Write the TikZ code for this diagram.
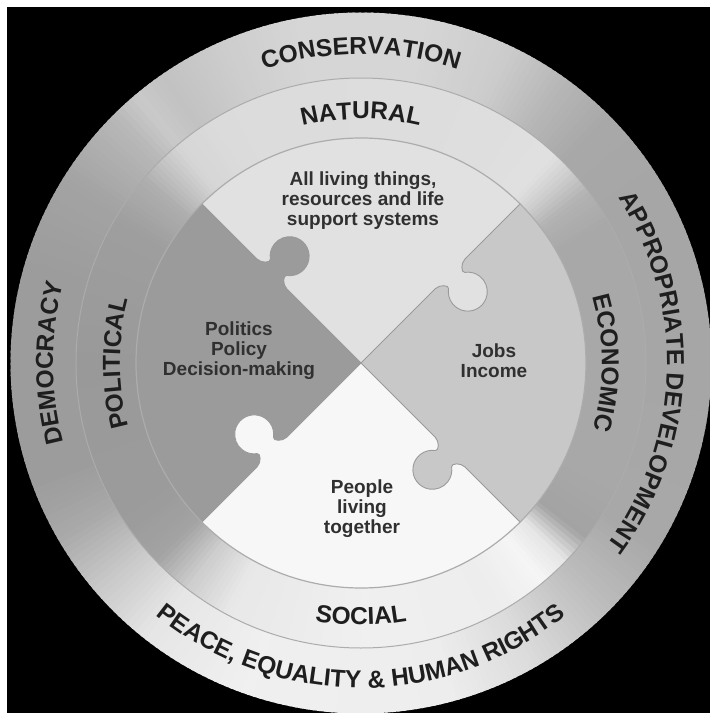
\documentclass[tikz,border=0pt]{standalone}
\usepackage{fontspec}
\setmainfont{Liberation Sans}
\usetikzlibrary{decorations.text}
\definecolor{topc}{HTML}{E1E1E1}
\definecolor{rightc}{HTML}{C8C8C8}
\definecolor{bottomc}{HTML}{F7F7F7}
\definecolor{leftc}{HTML}{9B9B9B}
\definecolor{seamc}{HTML}{9A9A9A}
\definecolor{edgec}{HTML}{ACACAC}
\definecolor{ringtxt}{HTML}{1E1E1E}
\definecolor{innertxt}{HTML}{303030}
\newcommand\ringfont{\bfseries\fontsize{24.5}{25}\selectfont}
\newcommand\innerfont{\bfseries\fontsize{19}{20}\selectfont}
\newcommand\ringshade[3]{%
  \foreach \ra/\rb/\ca/\cb in {#3}{%
    \pgfmathtruncatemacro\nn{\rb-\ra-1}%
    \foreach \i in {0,...,\nn}{%
      \pgfmathsetmacro\gv{\ca+(\cb-\ca)*(\i+0.5)/(\rb-\ra)}%
      \pgfmathsetmacro\sa{\ra+\i}%
      \pgfmathsetmacro\ea{\ra+\i+1.4}%
      \fill[white!\gv!black] (\sa:#1) arc[start angle=\sa, end angle=\ea, radius=#1] -- (\ea:#2) arc[start angle=\ea, end angle=\sa, radius=#2] -- cycle;
    }%
  }%
}
\begin{document}
\begin{tikzpicture}[x=1pt,y=1pt,
  seam/.style={draw=seamc, line width=0.9pt},
  innertext/.style={align=center, font=\innerfont, text=innertxt, inner sep=0pt},
  ringlabel/.style={decorate, decoration={text along path, text align=center, text color=ringtxt}}]
\useasboundingbox (-361,-350) rectangle (349,363);
\fill[white] (-361,-350) rectangle (349,363);
\fill[black] (-354,-350) rectangle (349,356);
% outer ring
\ringshade{285}{350.5}{0/30/65/65, 30/45/65/66, 45/55/66/72, 55/65/72/80, 65/80/80/84, 80/100/84/84, 100/115/84/80, 115/125/80/76, 125/130/76/79, 130/135/79/72, 135/148/72/64, 148/165/64/61, 165/200/61/61, 200/210/61/66, 210/220/66/78, 220/232/78/90, 232/250/90/94, 250/285/94/93, 285/300/93/86, 300/315/86/74, 315/328/74/66, 328/360/66/65}
% middle ring
\ringshade{224}{285}{0/30/66/66, 30/37/66/70, 37/42/70/80, 42/47/80/88, 47/60/88/87, 60/120/87/86, 120/130/86/84, 130/135/84/76, 135/140/76/68, 140/150/68/62, 150/180/62/60, 180/215/60/61, 215/224/61/64, 224/232/64/80, 232/242/80/91, 242/270/91/94, 270/300/94/93, 300/310/93/96, 310/316/96/90, 316/322/90/64, 322/335/64/66, 335/360/66/66}
\draw[draw=edgec, line width=1pt] (0,0) circle[radius=285];
% puzzle sectors
\fill[topc] (0,0) -- (45:225) arc[start angle=45, end angle=135, radius=225] -- cycle;
\fill[leftc] (0,0) -- (135:225) arc[start angle=135, end angle=225, radius=225] -- cycle;
\fill[bottomc] (0,0) -- (225:225) arc[start angle=225, end angle=315, radius=225] -- cycle;
\fill[rightc] (0,0) -- (-45:225) arc[start angle=-45, end angle=45, radius=225] -- cycle;
% knobs
\foreach \th/\col in {45/topc,-45/rightc,-135/bottomc,135/leftc}{
  \begin{scope}[rotate=\th]
    \fill[\col] (103,2) -- (105,0) .. controls (111,0) and (117.5,-7) .. (114.5,-9.3) arc[start angle=126.1, end angle=413.9, radius=19.5] .. controls (134.5,-7) and (141,0) .. (147,0) -- (149,2) -- cycle;
  \end{scope}
}
\foreach \th in {45,-45,-135,135}{
  \begin{scope}[rotate=\th]
    \draw[seam] (0,0) -- (105,0) .. controls (111,0) and (117.5,-7) .. (114.5,-9.3) arc[start angle=126.1, end angle=413.9, radius=19.5] .. controls (134.5,-7) and (141,0) .. (147,0) -- (225,0);
  \end{scope}
}
\draw[draw=edgec, line width=1.2pt] (0,0) circle[radius=225];
% inner texts
\node[innertext] (nat) at (2,162) {All living things,\\resources and life\\support systems};
\node[innertext] (pol) at (-122,12) {Politics\\Policy\\Decision-making};
\node[innertext] (eco) at (133,2) {Jobs\\Income};
\node[innertext] (soc) at (1,-146) {People\\living\\together};
% ring labels
\path[ringlabel, decoration={text={|\ringfont|CONSERVATION}}] (180:309) arc[start angle=180, end angle=0, radius=309];
\path[ringlabel, decoration={text={|\ringfont|NATURAL}}] (180:244) arc[start angle=180, end angle=0, radius=244];
\path[ringlabel, decoration={text={|\ringfont|POLITICAL}}] (270:241) arc[start angle=270, end angle=90, radius=241];
\path[ringlabel, decoration={text={|\ringfont|DEMOCRACY}}] (270:308) arc[start angle=270, end angle=90, radius=308];
\path[ringlabel, decoration={text={|\ringfont|ECONOMIC}}] (90:241) arc[start angle=90, end angle=-90, radius=241];
\path[ringlabel, decoration={text={|\ringfont|APPROPRIATE DEVELOPMENT}}] (88:306) arc[start angle=88, end angle=-92, radius=306];
\path[ringlabel, decoration={text={|\ringfont|SOCIAL}}] (180:262) arc[start angle=180, end angle=360, radius=262];
\path[ringlabel, decoration={text={|\ringfont|PEACE{,} EQUALITY {\&} HUMAN RIGHTS}}] (180:325) arc[start angle=180, end angle=360, radius=325];
\end{tikzpicture}
\end{document}
